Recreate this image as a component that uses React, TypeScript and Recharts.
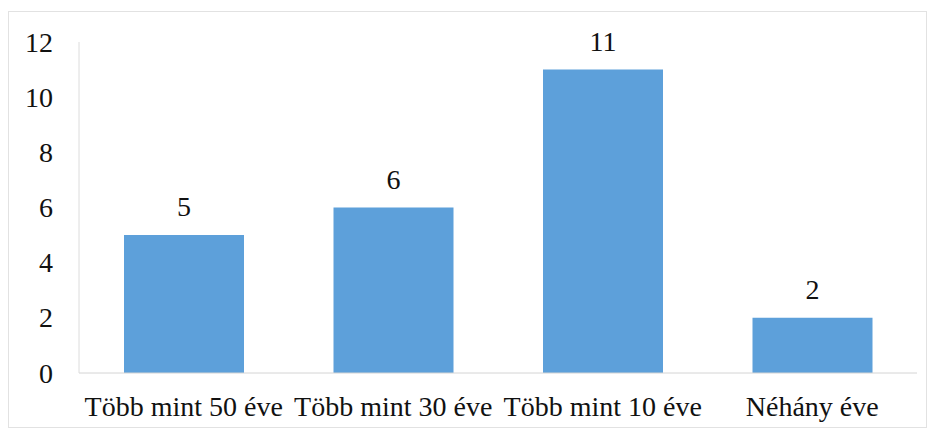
import { BarChart, Bar, XAxis, YAxis, LabelList } from 'recharts';

const categories = ['Több mint 50 éve', 'Több mint 30 éve', 'Több mint 10 éve', 'Néhány éve'];
const counts = [5, 6, 11, 2];
const yTicks = [0, 2, 4, 6, 8, 10, 12];

const data = categories.map((name, i) => ({ name, value: counts[i] }));

const BAR_COLOR = '#5da0da';
const TEXT_COLOR = '#111';
const FONT = "'Liberation Serif', 'Times New Roman', serif";

// something keeps overriding the font on chart text, so force it inline with priority
const forceSerif = (el: SVGTextElement | null) => {
  if (el) el.style.setProperty('font-family', FONT, 'important');
};

function XTick(props: any) {
  const { x, y, payload } = props;
  return (
    <text ref={forceSerif} className="serif-text" x={x} y={y + 43} textAnchor="middle" fill={TEXT_COLOR} fontFamily={FONT} fontSize={28}>
      {payload.value}
    </text>
  );
}

function YTick(props: any) {
  const { y, payload } = props;
  return (
    <text ref={forceSerif} className="serif-text" x={53} y={y + 9.5} textAnchor="end" fill={TEXT_COLOR} fontFamily={FONT} fontSize={28}>
      {payload.value}
    </text>
  );
}

function ValueLabel(props: any) {
  const { x, y, width, value } = props;
  return (
    <text ref={forceSerif} className="serif-text" x={x + width / 2} y={y - 19} textAnchor="middle" fill={TEXT_COLOR} fontFamily={FONT} fontSize={28}>
      {value}
    </text>
  );
}

export default function App() {
  return (
    <div style={{ position: 'absolute', left: 0, top: 0, width: 934, height: 435, background: '#fff' }}>
      <style>{`
        html body #root div .recharts-wrapper svg text.serif-text,
        html body #root div .recharts-wrapper svg text.serif-text * {
          font-family: 'Liberation Serif', 'Times New Roman', serif !important;
        }
      `}</style>
      <div
        style={{
          position: 'absolute',
          left: 8,
          top: 11,
          width: 917,
          height: 415,
          border: '1px solid #e2e2e2',
        }}
      />
      <BarChart
        width={934}
        height={435}
        data={data}
        margin={{ top: 42, right: 17, left: 0, bottom: 0 }}
        barSize={120}
        style={{ position: 'absolute', left: 0, top: 0 }}
      >
        <XAxis
          dataKey="name"
          height={62}
          tickLine={false}
          tickSize={0}
          tickMargin={0}
          axisLine={{ stroke: '#d4d4d4' }}
          tick={<XTick />}
          interval={0}
        />
        <YAxis
          width={79}
          domain={[0, 12]}
          ticks={yTicks}
          tickLine={false}
          tickSize={0}
          tickMargin={0}
          axisLine={{ stroke: '#dcdcdc' }}
          tick={<YTick />}
        />
        <Bar dataKey="value" fill={BAR_COLOR} isAnimationActive={false}>
          <LabelList dataKey="value" content={<ValueLabel />} />
        </Bar>
      </BarChart>
    </div>
  );
}
